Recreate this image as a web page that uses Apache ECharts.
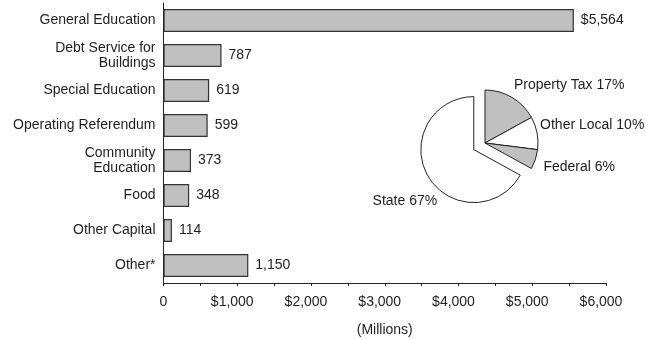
<!DOCTYPE html>
<html>
<head>
<meta charset="utf-8">
<script src="https://cdn.jsdelivr.net/npm/echarts@6/dist/echarts.min.js"></script>
<style>
html,body{margin:0;padding:0;background:#fff;}
#c{width:646px;height:339px;}
</style>
</head>
<body>
<div id="c"></div>
<script>
// ---- data ----
var categories = ['General Education', 'Debt Service for\nBuildings', 'Special Education', 'Operating Referendum', 'Community\nEducation', 'Food', 'Other Capital', 'Other*'];
var spending = [5564, 787, 619, 599, 373, 348, 114, 1150];
var xTicks = [0, 1000, 2000, 3000, 4000, 5000, 6000];
var xTickLabels = ['0', '$1,000', '$2,000', '$3,000', '$4,000', '$5,000', '$6,000'];
var revenueNames = ['Property Tax', 'Other Local', 'Federal', 'State'];
var revenueShares = [17, 10, 6, 67];

// ---- styling / layout (not data) ----
var FONT = '"Liberation Sans", Arial, sans-serif';
var FS = 14;
var TEXT = '#1e1e1e';
var sliceColors = ['#c0c0c0', '#ffffff', '#c0c0c0', '#ffffff'];
var labelShift = [[-3, -12], [-2, -8], [3, 8], [14, 25]];

function fmt(v) {
  return String(v).replace(/\B(?=(\d{3})+(?!\d))/g, ',');
}

var chart = echarts.init(document.getElementById('c'), null, {renderer: 'canvas'});
chart.setOption({
  animation: false,
  textStyle: {fontFamily: FONT},
  grid: {left: 163.5, right: 40, top: 3, height: 280, outerBoundsMode: 'none', containLabel: false},
  xAxis: {
    type: 'value', min: 0, max: 6000, interval: 1000,
    name: '(Millions)', nameLocation: 'middle', nameGap: 40,
    nameTextStyle: {fontFamily: FONT, fontSize: FS, color: TEXT},
    axisLine: {show: true, lineStyle: {color: '#222', width: 1}},
    axisTick: {show: true, inside: false, length: 3, lineStyle: {color: '#222'}},
    minorTick: {show: true, splitNumber: 2, length: 3, lineStyle: {color: '#222'}},
    splitLine: {show: false},
    axisLabel: {
      fontFamily: FONT, fontSize: FS, color: TEXT, margin: 12,
      formatter: function (v) {
        var i = xTicks.indexOf(v);
        var t = i >= 0 ? xTickLabels[i] : '';
        return v === 0 ? t : '{s|' + t + '}';
      },
      rich: {s: {fontFamily: FONT, fontSize: FS, color: TEXT, padding: [0, 10, 0, 0]}}
    }
  },
  yAxis: {
    type: 'category', data: categories, inverse: true,
    axisLine: {show: true, lineStyle: {color: '#222', width: 1}},
    axisTick: {show: false},
    axisLabel: {fontFamily: FONT, fontSize: FS, color: TEXT, margin: 8, lineHeight: 15}
  },
  series: [
    {
      type: 'bar',
      data: spending,
      barWidth: 23,
      itemStyle: {color: '#c0c0c0', borderColor: '#333', borderWidth: 1.2},
      label: {
        show: true, position: 'right', distance: 7,
        fontFamily: FONT, fontSize: FS, color: TEXT,
        formatter: function (p) { return (p.dataIndex === 0 ? '$' : '') + fmt(p.value); }
      },
      emphasis: {disabled: true}
    },
    {
      type: 'pie',
      center: [485, 143],
      radius: 53,
      startAngle: 90,
      clockwise: true,
      selectedMode: 'single',
      selectedOffset: 13,
      avoidLabelOverlap: false,
      emphasis: {disabled: true, scale: false},
      data: revenueNames.map(function (n, i) {
        return {
          name: n, value: revenueShares[i], selected: n === 'State',
          itemStyle: {color: sliceColors[i]},
          select: {itemStyle: {color: sliceColors[i], borderColor: '#222', borderWidth: 1}}
        };
      }),
      itemStyle: {borderColor: '#222', borderWidth: 1},
      label: {
        show: true, position: 'outside',
        fontFamily: FONT, fontSize: FS, color: TEXT,
        formatter: function (p) { return p.name + ' ' + p.value + '%'; }
      },
      labelLine: {show: false, length: 0, length2: 0},
      labelLayout: function (p) {
        var s = labelShift[p.dataIndex];
        return {dx: s[0], dy: s[1]};
      }
    }
  ]
});
</script>
</body>
</html>
